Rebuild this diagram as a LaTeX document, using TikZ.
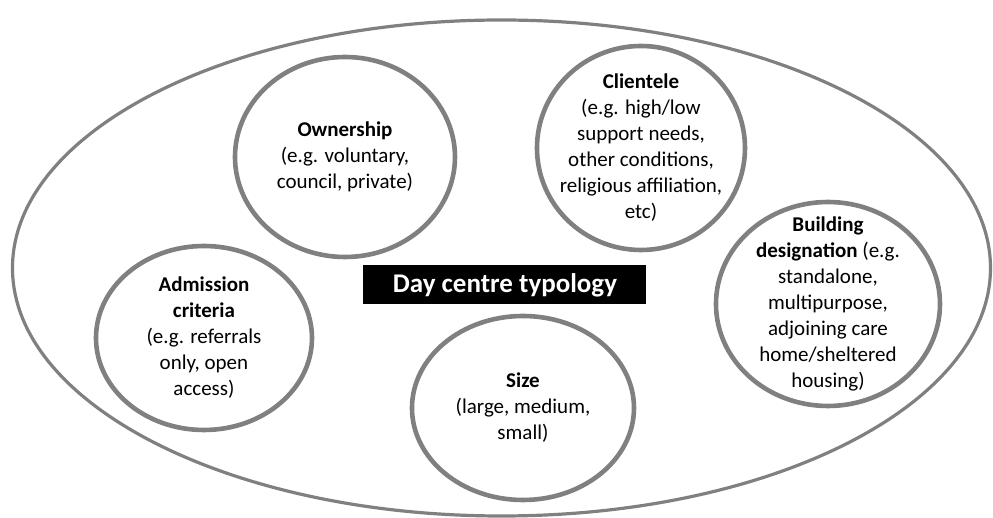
\documentclass[tikz,border=0pt]{standalone}
\usepackage{fontspec}
\setmainfont{Carlito}
\usepackage{tikz}
\usetikzlibrary{shapes.geometric, arrows}
\tikzstyle{frame} = [ellipse, minimum width=489pt, minimum height=248pt, draw=black!50, line width=1.6pt]
\tikzstyle{facet} = [ellipse, inner sep=-14pt, text centered, align=center, draw=black!50, line width=2.3pt, font=\fontsize{10.5}{13}\selectfont]
\tikzstyle{title} = [rectangle, minimum width=141.5pt, minimum height=19.5pt, text centered, fill=black, text=white, font=\fontsize{13.5}{16}\selectfont\bfseries]

\begin{document}
\begin{tikzpicture}[node distance=64pt]
\useasboundingbox (-252.5pt,-116.5pt) rectangle (244pt,142.5pt);
\node (outer) [frame] at (-1.75pt,8.5pt) {};
\node (typology) [title] at (0,0) {Day centre typology};
\node (ownership) [facet, above of=typology, xshift=-80pt, minimum width=110pt, minimum height=100pt] {\textbf{Ownership}\\(e.g. voluntary,\\council, private)};
\node (clientele) [facet, above of=typology, xshift=68pt, yshift=4.5pt, minimum width=104pt, minimum height=102pt] {\textbf{Clientele}\\(e.g. high/low\\support needs,\\other conditions,\\religious affiliation,\\etc)};
\node (building) [facet, right of=typology, xshift=97.5pt, yshift=-9.5pt, minimum width=112pt, minimum height=102pt] {\textbf{Building}\\\textbf{designation} (e.g.\\standalone,\\multipurpose,\\adjoining care\\home/sheltered\\housing)};
\node (admission) [facet, left of=typology, xshift=-86.5pt, yshift=-26.5pt, minimum width=108pt, minimum height=92pt] {\textbf{Admission}\\\textbf{criteria}\\(e.g. referrals\\only, open\\access)};
\node (size) [facet, below of=typology, xshift=9pt, yshift=2.5pt, minimum width=111pt, minimum height=92pt] {\textbf{Size}\\(large, medium,\\small)};

\end{tikzpicture}
\end{document}
